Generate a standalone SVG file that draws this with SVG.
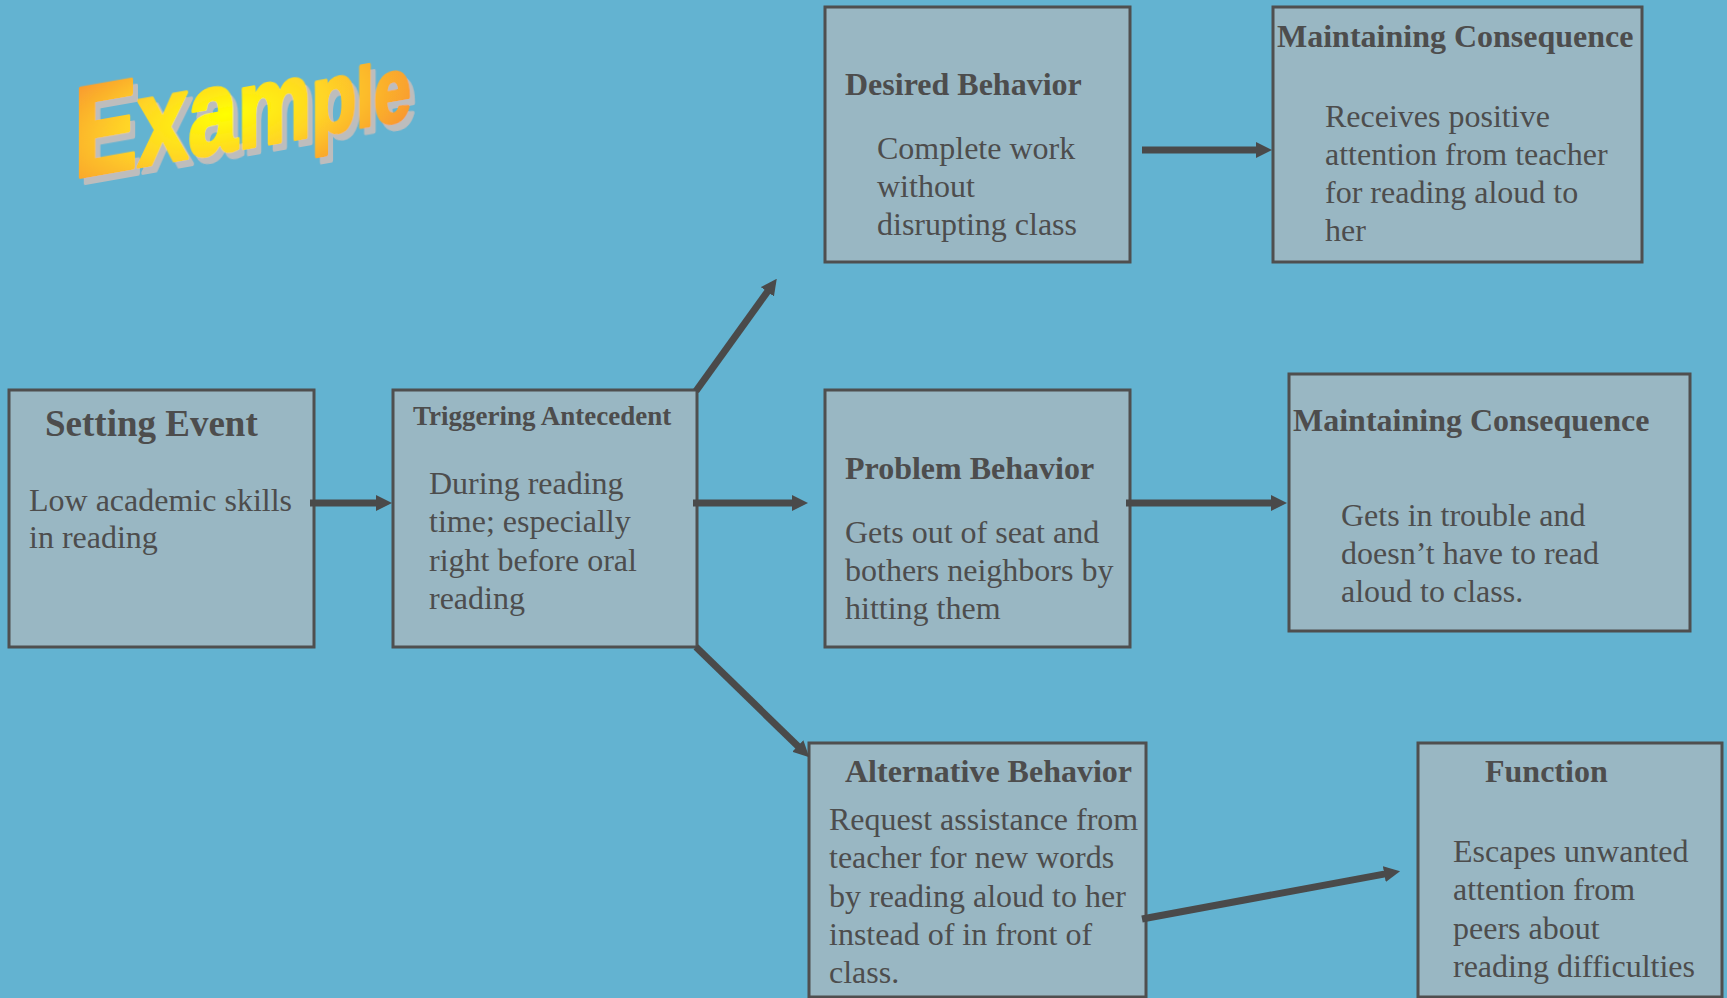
<svg xmlns="http://www.w3.org/2000/svg" width="1727" height="998" viewBox="0 0 1727 998">
<style>
.box{fill:#99B7C3;stroke:#4F4F4F;stroke-width:3}
.t{font-family:"Liberation Serif","Times New Roman",serif;fill:#4D4D4D}
.h{font-weight:bold;font-size:32px}
.b{font-size:32px}
.c{stroke:#4A4A4A;stroke-width:7;fill:none;marker-end:url(#ah)}
</style>
<defs>
<marker id="ah" markerUnits="userSpaceOnUse" viewBox="0 0 16 16" markerWidth="16" markerHeight="16" refX="1" refY="8" orient="auto">
<path d="M0,0 L16,8 L0,16 z" fill="#4A4A4A"/>
</marker>
<radialGradient id="exg" cx="0.45" cy="0.55" r="0.6">
<stop offset="0" stop-color="#FFFF00"/>
<stop offset="0.5" stop-color="#FFD427"/>
<stop offset="1" stop-color="#F8962F"/>
</radialGradient>
<filter id="sh" x="-10%" y="-20%" width="130%" height="150%">
<feOffset in="SourceAlpha" dx="7" dy="7" result="o"/>
<feFlood flood-color="#BDBDBD"/>
<feComposite in2="o" operator="in" result="s"/>
<feMerge><feMergeNode in="s"/><feMergeNode in="SourceGraphic"/></feMerge>
</filter>
</defs>
<rect width="1727" height="998" fill="#63B3D1"/>

<g id="title-example">
<text transform="translate(74,178) skewY(-10) scale(0.74,1)" font-family="Liberation Sans, Arial, sans-serif" font-weight="bold" fill="url(#exg)" stroke="url(#exg)" stroke-width="4" stroke-linejoin="round" filter="url(#sh)"><tspan font-size="128">E</tspan><tspan font-size="124">x</tspan><tspan font-size="120">a</tspan><tspan font-size="112">m</tspan><tspan font-size="100">p</tspan><tspan font-size="84">l</tspan><tspan font-size="90">e</tspan></text>
</g>

<g id="setting-event">
<rect class="box" x="9" y="390" width="305" height="257"/>
<text class="t" x="45" y="436" font-weight="bold" font-size="37">Setting Event</text>
<text class="t b"><tspan x="29" y="511">Low academic skills</tspan><tspan x="29" y="548">in reading</tspan></text>
</g>

<g id="triggering-antecedent">
<rect class="box" x="393" y="390" width="304" height="257"/>
<text class="t" x="413" y="425" font-weight="bold" font-size="27">Triggering Antecedent</text>
<text class="t b"><tspan x="429" y="494">During reading</tspan><tspan x="429" y="532">time; especially</tspan><tspan x="429" y="571">right before oral</tspan><tspan x="429" y="609">reading</tspan></text>
</g>

<g id="desired-behavior">
<rect class="box" x="825" y="7" width="305" height="255"/>
<text class="t h" x="845" y="95">Desired Behavior</text>
<text class="t b"><tspan x="877" y="159">Complete work</tspan><tspan x="877" y="197">without</tspan><tspan x="877" y="235">disrupting class</tspan></text>
</g>

<g id="maintaining-consequence-1">
<rect class="box" x="1273" y="7" width="369" height="255"/>
<text class="t h" x="1277" y="47">Maintaining Consequence</text>
<text class="t b"><tspan x="1325" y="127">Receives positive</tspan><tspan x="1325" y="165">attention from teacher</tspan><tspan x="1325" y="203">for reading aloud to</tspan><tspan x="1325" y="241">her</tspan></text>
</g>

<g id="problem-behavior">
<rect class="box" x="825" y="390" width="305" height="257"/>
<text class="t h" x="845" y="479">Problem Behavior</text>
<text class="t b"><tspan x="845" y="543">Gets out of seat and</tspan><tspan x="845" y="581">bothers neighbors by</tspan><tspan x="845" y="619">hitting them</tspan></text>
</g>

<g id="maintaining-consequence-2">
<rect class="box" x="1289" y="374" width="401" height="257"/>
<text class="t h" x="1293" y="431">Maintaining Consequence</text>
<text class="t b"><tspan x="1341" y="526">Gets in trouble and</tspan><tspan x="1341" y="564">doesn’t have to read</tspan><tspan x="1341" y="602">aloud to class.</tspan></text>
</g>

<g id="alternative-behavior">
<rect class="box" x="809" y="743" width="337" height="254"/>
<text class="t h" x="845" y="782">Alternative Behavior</text>
<text class="t b"><tspan x="829" y="830">Request assistance from</tspan><tspan x="829" y="868">teacher for new words</tspan><tspan x="829" y="907">by reading aloud to her</tspan><tspan x="829" y="945">instead of in front of</tspan><tspan x="829" y="983">class.</tspan></text>
</g>

<g id="function">
<rect class="box" x="1418" y="743" width="304" height="254"/>
<text class="t h" x="1485" y="782">Function</text>
<text class="t b"><tspan x="1453" y="862">Escapes unwanted</tspan><tspan x="1453" y="900">attention from</tspan><tspan x="1453" y="939">peers about</tspan><tspan x="1453" y="977">reading difficulties</tspan></text>
</g>

<g id="connectors">
<line class="c" x1="310" y1="503" x2="377" y2="503"/>
<line class="c" x1="693" y1="503" x2="793" y2="503"/>
<line class="c" x1="1142" y1="150" x2="1257" y2="150"/>
<line class="c" x1="1126" y1="503" x2="1272" y2="503"/>
<line class="c" x1="696" y1="391" x2="768" y2="291"/>
<line class="c" x1="696" y1="647" x2="798.5" y2="746.8"/>
<line class="c" x1="1142" y1="919" x2="1385.3" y2="873.9"/>
</g>
</svg>
